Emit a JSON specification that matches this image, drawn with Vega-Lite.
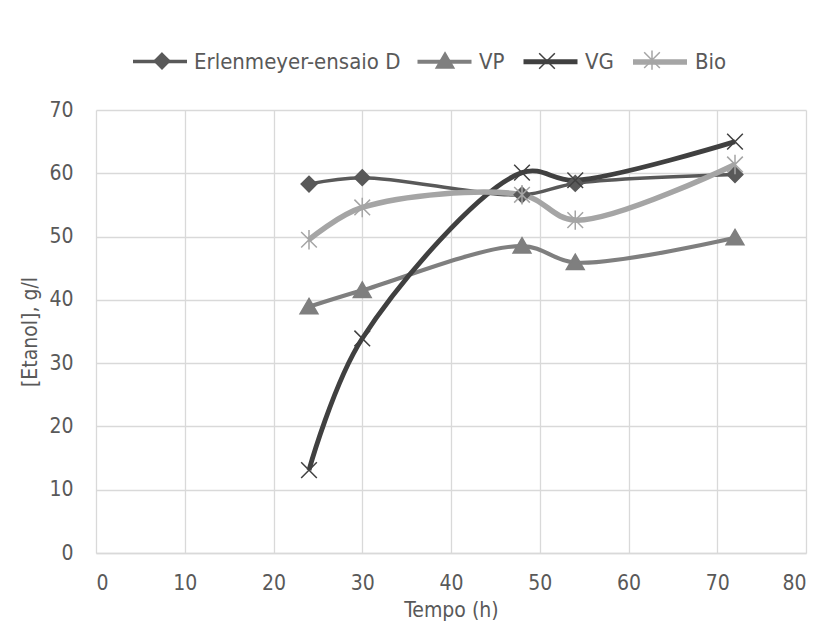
{
  "$schema": "https://vega.github.io/schema/vega-lite/v6.json",
  "width": 710,
  "height": 443,
  "autosize": {"type": "none"},
  "padding": {"left": 96, "top": 110, "right": 20, "bottom": 76},
  "background": "white",
  "config": {
    "font": "'DejaVu Sans Condensed', Roboto, sans-serif",
    "view": {"stroke": null},
    "axis": {
      "labelFont": "'DejaVu Sans Condensed', Roboto, sans-serif",
      "titleFont": "'DejaVu Sans Condensed', Roboto, sans-serif",
      "labelColor": "#595959",
      "titleColor": "#595959",
      "labelFontSize": 21,
      "titleFontSize": 21,
      "titleFontWeight": "normal",
      "gridColor": "#d9d9d9",
      "gridWidth": 1.3,
      "ticks": false,
      "domain": false
    },
    "legend": {
      "labelFont": "'DejaVu Sans Condensed', Roboto, sans-serif"
    }
  },
  "data": {
    "values": [
      {"serie": "Erlenmeyer-ensaio D", "t": 24, "etanol": 58.3},
      {"serie": "Erlenmeyer-ensaio D", "t": 30, "etanol": 59.3},
      {"serie": "Erlenmeyer-ensaio D", "t": 48, "etanol": 56.6},
      {"serie": "Erlenmeyer-ensaio D", "t": 54, "etanol": 58.4},
      {"serie": "Erlenmeyer-ensaio D", "t": 72, "etanol": 59.8},
      {"serie": "VP", "t": 24, "etanol": 38.9},
      {"serie": "VP", "t": 30, "etanol": 41.5},
      {"serie": "VP", "t": 48, "etanol": 48.5},
      {"serie": "VP", "t": 54, "etanol": 45.9},
      {"serie": "VP", "t": 72, "etanol": 49.8},
      {"serie": "VG", "t": 24, "etanol": 13.1},
      {"serie": "VG", "t": 30, "etanol": 33.9},
      {"serie": "VG", "t": 48, "etanol": 60.1},
      {"serie": "VG", "t": 54, "etanol": 58.9},
      {"serie": "VG", "t": 72, "etanol": 65.0},
      {"serie": "Bio", "t": 24, "etanol": 49.5},
      {"serie": "Bio", "t": 30, "etanol": 54.6},
      {"serie": "Bio", "t": 48, "etanol": 56.6},
      {"serie": "Bio", "t": 54, "etanol": 52.6},
      {"serie": "Bio", "t": 72, "etanol": 61.4}
    ]
  },
  "encoding": {
    "x": {
      "field": "t", "type": "quantitative",
      "scale": {"domain": [0, 80], "nice": false},
      "axis": {"values": [0,10,20,30,40,50,60,70,80], "title": "Tempo (h)", "labelPadding": 19, "titlePadding": 6, "domain": true, "domainColor": "#d9d9d9", "domainWidth": 1.3}
    },
    "y": {
      "field": "etanol", "type": "quantitative",
      "scale": {"domain": [0, 70], "nice": false},
      "axis": {"values": [0,10,20,30,40,50,60,70], "title": "[Etanol], g/l", "labelPadding": 23, "titlePadding": 8}
    }
  },
  "layer": [
    {
      "mark": {"type": "line", "interpolate": "catmull-rom"},
      "encoding": {
        "color": {
          "field": "serie", "type": "nominal",
          "scale": {"domain": ["Erlenmeyer-ensaio D", "VP", "VG", "Bio"], "range": ["#595959", "#7f7f7f", "#404040", "#a5a5a5"]},
          "legend": {
            "orient": "none", "direction": "horizontal",
            "legendX": 35, "legendY": -78, "title": null, "padding": 0,
            "labelFontSize": 22, "labelColor": "#595959", "labelLimit": 400,
            "symbolType": "stroke", "symbolSize": 2916, "columnPadding": 8, "labelOffset": 5
          }
        },
        "strokeWidth": {
          "field": "serie", "type": "nominal",
          "scale": {"domain": ["Erlenmeyer-ensaio D", "VP", "VG", "Bio"], "range": [3.5, 5.5, 5.5, 5.5]}
        },
        "order": {"field": "t"}
      }
    },
    {
      "mark": {"type": "point", "filled": true, "strokeWidth": 1.5, "opacity": 1},
      "encoding": {
        "shape": {
          "field": "serie", "type": "nominal", "sort": null,
          "scale": {"range": ["M0,-0.29L0.29,0L0,0.29L-0.29,0Z", "M0,-0.31L0.33,0.26L-0.33,0.26Z", "M-0.29,-0.29L0.29,0.29M-0.29,0.29L0.29,-0.29", "M-0.29,-0.29L0.29,0.29M-0.29,0.29L0.29,-0.29M0,-0.36L0,0.36"]},
          "legend": {
            "orient": "none", "direction": "horizontal",
            "legendX": 38, "legendY": -78, "title": null, "padding": 0,
            "labelFontSize": 22, "labelColor": "#595959", "labelLimit": 400, "labelOpacity": 0,
            "symbolSize": 2916, "symbolStrokeWidth": 1.5, "columnPadding": 15, "labelOffset": 5
          }
        },
        "fill": {
          "field": "serie", "type": "nominal", "sort": null,
          "scale": {"range": ["#595959", "#7f7f7f", "#404040", "#a5a5a5"]},
          "legend": {
            "orient": "none", "direction": "horizontal",
            "legendX": 38, "legendY": -78, "title": null, "padding": 0,
            "labelFontSize": 22, "labelColor": "#595959", "labelLimit": 400, "labelOpacity": 0,
            "symbolSize": 2916, "symbolStrokeWidth": 1.5, "columnPadding": 15, "labelOffset": 5
          }
        },
        "stroke": {
          "field": "serie", "type": "nominal", "sort": null,
          "scale": {"range": ["#595959", "#7f7f7f", "#404040", "#a5a5a5"]},
          "legend": {
            "orient": "none", "direction": "horizontal",
            "legendX": 38, "legendY": -78, "title": null, "padding": 0,
            "labelFontSize": 22, "labelColor": "#595959", "labelLimit": 400, "labelOpacity": 0,
            "symbolSize": 2916, "symbolStrokeWidth": 1.5, "columnPadding": 15, "labelOffset": 5
          }
        },
        "size": {"value": 2916}
      }
    }
  ]
}
